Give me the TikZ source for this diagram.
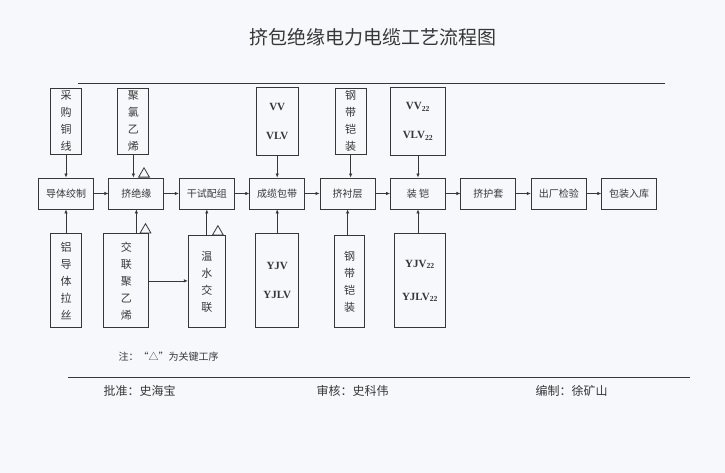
\documentclass[tikz,border=0pt]{standalone}
\usepackage{fontspec}
\setmainfont{Liberation Serif}
\newfontfamily\cjk{Noto Sans CJK SC}
\usetikzlibrary{arrows.meta,positioning,shapes.geometric}
\definecolor{paper}{RGB}{246,248,251}
\definecolor{ink}{RGB}{55,55,55}
\tikzset{
    stepbox/.style={rectangle, draw=ink, line width=0.9pt, minimum width=55pt, minimum height=31pt, inner sep=0pt, text=ink, font=\cjk\fontsize{10}{12}\selectfont},
    feedbox/.style={rectangle, draw=ink, line width=0.9pt, inner sep=0pt, align=center, text=ink, font=\cjk\fontsize{11}{17}\selectfont},
    typebox/.style={rectangle, draw=ink, line width=0.9pt, inner sep=0pt, align=center, text=ink, font=\bfseries\fontsize{11}{29}\selectfont},
    pil/.style={-{Latex[length=4pt,width=3.5pt]}, draw=ink, line width=0.7pt},
    keymark/.style={regular polygon, regular polygon sides=3, draw=ink, line width=0.8pt, minimum size=12.5pt, inner sep=0pt}
}
\begin{document}
\begin{tikzpicture}[x=1pt, y=-1pt, node distance=14.5pt]
    \fill[paper] (0,0) rectangle (725,473);
    \useasboundingbox (0,0) rectangle (725,473);

    % title
    \node[text=ink, font=\cjk\fontsize{19}{20}\selectfont] (title) at (373,37) {挤包绝缘电力电缆工艺流程图};
    \coordinate (titleL) at (78,83);
    \coordinate (titleR) at (665,83);
    \draw[ink, line width=0.8pt] (titleL) -- (titleR);

    % main flow
    \node[stepbox] (conductor) at (66,193.5) {导体绞制};
    \node[stepbox, right=of conductor] (insul) {挤绝缘};
    \node[stepbox, right=of insul] (dryset) {干试配组};
    \node[stepbox, right=of dryset] (cabling) {成缆包带};
    \node[stepbox, right=of cabling] (bedding) {挤衬层};
    \node[stepbox, right=of bedding] (armour) {装\ 铠};
    \node[stepbox, right=of armour] (sheath) {挤护套};
    \node[stepbox, right=of sheath] (testing) {出厂检验};
    \node[stepbox, right=of testing] (packing) {包装入库};

    \draw[pil] (conductor) -- (insul);
    \draw[pil] (insul) -- (dryset);
    \draw[pil] (dryset) -- (cabling);
    \draw[pil] (cabling) -- (bedding);
    \draw[pil] (bedding) -- (armour);
    \draw[pil] (armour) -- (sheath);
    \draw[pil] (sheath) -- (testing);
    \draw[pil] (testing) -- (packing);

    % inputs from above
    \node[feedbox, minimum width=31pt, minimum height=66pt, above=23pt of conductor] (copper) {采\\购\\铜\\线};
    \node[feedbox, minimum width=31pt, minimum height=66pt, above=23pt of insul, xshift=-3pt] (pvc) {聚\\氯\\乙\\烯};
    \node[typebox, minimum width=42pt, minimum height=68pt, above=22pt of cabling] (vvtype) {VV\\VLV};
    \node[feedbox, minimum width=31pt, minimum height=66pt, above=23pt of bedding, xshift=3pt] (steeltop) {钢\\带\\铠\\装};
    \node[typebox, minimum width=55pt, minimum height=68pt, above=22pt of armour] (vvarm) {VV\textsubscript{22}\\VLV\textsubscript{22}};

    \draw[pil] (copper.south -| conductor.north) -- (conductor.north);
    \draw[pil] (pvc) -- (pvc.south |- insul.north);
    \draw[pil] (vvtype.south -| cabling.north) -- (cabling.north);
    \draw[pil] (steeltop) -- (steeltop.south |- bedding.north);
    \draw[pil] (vvarm) -- (armour);

    % inputs from below
    \node[feedbox, minimum width=31pt, minimum height=94pt, below=24pt of conductor] (alu) {铝\\导\\体\\拉\\丝};
    \node[feedbox, minimum width=45pt, minimum height=94pt, below=24pt of insul, xshift=-10pt] (xlpe) {交\\联\\聚\\乙\\烯};
    \node[feedbox, minimum width=37pt, minimum height=92pt, below=26pt of dryset] (warmxl) {温\\水\\交\\联};
    \node[typebox, minimum width=43pt, minimum height=94pt, below=24pt of cabling] (yjvtype) {YJV\\YJLV};
    \node[feedbox, minimum width=30pt, minimum height=92pt, below=26pt of bedding, xshift=2pt] (steelbot) {钢\\带\\铠\\装};
    \node[typebox, minimum width=51pt, minimum height=94pt, below=24pt of armour, xshift=2pt, font=\bfseries\fontsize{11}{33}\selectfont] (yjvarm) {YJV\textsubscript{22}\\YJLV\textsubscript{22}};

    \draw[pil] (alu.north -| conductor.south) -- (conductor.south);
    \draw[pil] (insul.south |- xlpe.north) -- (insul.south);
    \draw[pil] (warmxl.north -| dryset.south) -- (dryset.south);
    \draw[pil] (yjvtype.north -| cabling.south) -- (cabling.south);
    \draw[pil] (steelbot.north -| bedding.south) -- (bedding.south);
    \draw[pil] (yjvarm.north -| armour.south) -- (armour.south);
    \draw[pil] (xlpe.east) -- (xlpe.east -| warmxl.west);

    % key steps
    \node[keymark, anchor=corner 2, xshift=1.5pt] (key1) at (insul.north) {};
    \node[keymark, anchor=corner 2, xshift=3pt] (key2) at (insul.south |- xlpe.north) {};
    \node[keymark, anchor=corner 2, xshift=5pt] (key3) at (warmxl.north -| dryset.south) {};

    % footer
    \node[anchor=west, text=ink, font=\cjk\fontsize{10}{12}\selectfont] (note) at (115,357) {注：“△”为关键工序};
    \coordinate (footL) at (68,377);
    \coordinate (footR) at (690,377);
    \draw[ink, line width=0.8pt] (footL) -- (footR);
    \node[anchor=west, text=ink, font=\cjk\fontsize{12}{14}\selectfont] (approve) at (100,391) {批准：史海宝};
    \node[anchor=west, text=ink, font=\cjk\fontsize{12}{14}\selectfont] (review) at (313,391) {审核：史科伟};
    \node[anchor=west, text=ink, font=\cjk\fontsize{12}{14}\selectfont] (author) at (532,391) {编制：徐矿山};
\end{tikzpicture}
\end{document}
